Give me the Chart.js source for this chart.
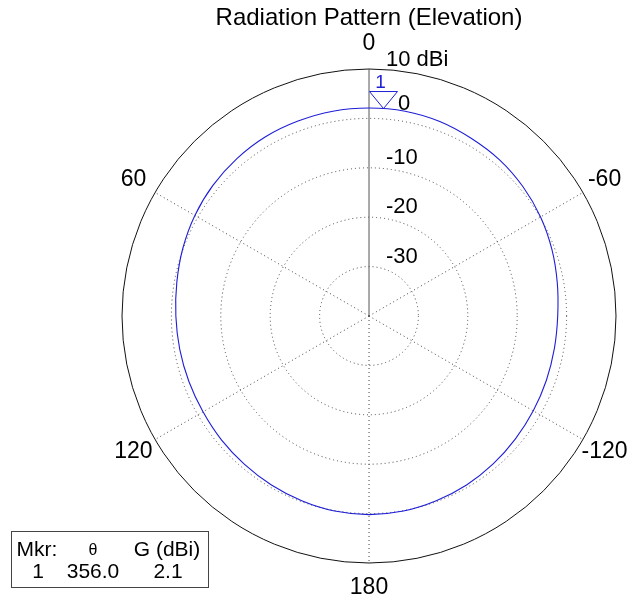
<!DOCTYPE html>
<html>
<head>
<meta charset="utf-8">
<script src="https://cdn.jsdelivr.net/npm/chart.js@4"></script>
<style>
  body { margin: 0; background: #fff; }
  canvas { display: block; }
</style>
</head>
<body>
<canvas id="myChart" width="629" height="603"></canvas>
<script>
// elevation angle (deg, counter-clockwise from top) and gain (dBi)
const thetaDeg = [0, 10, 20, 30, 40, 50, 60, 70, 80, 90, 100, 110, 120, 130, 140, 150, 160, 170,
                  180, 190, 200, 210, 220, 230, 240, 250, 260, 270, 280, 290, 300, 310, 320, 330, 340, 350];
const gainDbi = [2.1, 2.1, 2.0, 1.9, 1.6, 1.2, 0.7, 0.1, -0.5, -0.9, -1.1, -1.2, -1.2, -1.0, -0.8, -0.5, -0.2, 0.1,
                 0.2, 0.1, -0.2, -0.5, -0.9, -1.3, -1.6, -1.8, -1.9, -1.8, -1.3, -0.6, 0.1, 0.7, 1.2, 1.5, 1.9, 2.1];

const ringTicks = [-30, -20, -10, 0, 10];
const ringLabels = ['-30', '-20', '-10', '0', '10 dBi'];
const angleTicks = [0, 60, 120, 180, -120, -60];
const angleLabels = ['0', '60', '120', '180', '-120', '-60'];

const markerTheta = 356.0;
const markerGain = 2.1;

const FONT = '"Liberation Sans", Arial, sans-serif';
const BLUE = 'rgb(30,30,215)';

// radar goes clockwise, the pattern is counter-clockwise
let labels = [], values = [];
for (let i = 0; i < thetaDeg.length; i++) {
    let th = (360 - thetaDeg[i]) % 360;
    let k = thetaDeg.indexOf(th);
    labels.push(String(th));
    values.push(gainDbi[k]);
}

// angle in radians measured the canvas way for a ccw elevation angle
function canvasAngle(theta) {
    return -Math.PI / 2 - theta * Math.PI / 180;
}

const overlay = {
    id: 'overlay',
    afterDraw(chart) {
        const ctx = chart.ctx;
        const r = chart.scales.r;
        const cx = r.xCenter, cy = r.yCenter;
        ctx.save();
        ctx.fillStyle = '#000';

        // title
        ctx.font = '24px ' + FONT;
        ctx.textAlign = 'center';
        ctx.textBaseline = 'middle';
        ctx.fillText('Radiation Pattern (Elevation)', cx, 18);

        // angle labels
        ctx.font = '23px ' + FONT;
        const outer = r.getDistanceFromCenterForValue(10) + 25;
        angleTicks.forEach((a, i) => {
            const ang = canvasAngle(a);
            ctx.fillText(angleLabels[i], cx + outer * Math.cos(ang), cy + outer * Math.sin(ang));
        });

        // ring labels
        ctx.font = '22px ' + FONT;
        ctx.textAlign = 'left';
        ringTicks.forEach((v, i) => {
            const d = r.getDistanceFromCenterForValue(v);
            let x = cx + 17, y = cy - d - 10;
            if (v === 0) { x = cx + 29; y = cy - d - 14; }
            if (v === 10) { y = cy - d - 9; }
            ctx.fillText(ringLabels[i], x, y);
        });

        // marker
        const md = r.getDistanceFromCenterForValue(markerGain);
        const ma = canvasAngle(markerTheta);
        const mx = cx + md * Math.cos(ma), my = cy + md * Math.sin(ma);
        ctx.strokeStyle = BLUE;
        ctx.lineWidth = 1;
        ctx.beginPath();
        ctx.moveTo(mx, my);
        ctx.lineTo(mx - 14, my - 17);
        ctx.lineTo(mx + 14, my - 17);
        ctx.closePath();
        ctx.stroke();
        ctx.fillStyle = BLUE;
        ctx.font = '19px ' + FONT;
        ctx.textAlign = 'center';
        ctx.fillText('1', mx - 3, my - 26);

        // marker table
        ctx.fillStyle = '#fff';
        ctx.fillRect(12, 531, 197, 57);
        ctx.strokeStyle = '#444';
        ctx.strokeRect(11.5, 531.5, 197, 56);
        ctx.fillStyle = '#000';
        ctx.font = '21px ' + FONT;
        ctx.fillText('Mkr:', 37, 550);
        ctx.fillText('G (dBi)', 167, 550);
        ctx.fillText('1', 38, 572);
        ctx.fillText(markerTheta.toFixed(1), 93, 572);
        ctx.fillText(String(markerGain), 168, 572);
        ctx.font = '16px ' + FONT;
        ctx.fillText('\u03b8', 93, 551);
        ctx.restore();
    }
};

const ctx = document.getElementById('myChart');
const myChart = new Chart(ctx, {
    type: 'radar',
    data: {
        labels: labels,
        datasets: [{
            data: values,
            borderColor: BLUE,
            borderWidth: 1.1,
            pointRadius: 0,
            fill: false,
            tension: 0.35
        }]
    },
    options: {
        responsive: false,
        animation: false,
        layout: { padding: { left: 122, top: 69, right: 13, bottom: 40 } },
        plugins: {
            legend: { display: false },
            tooltip: { enabled: false }
        },
        scales: {
            r: {
                min: -40,
                max: 10,
                ticks: { display: false, stepSize: 10 },
                pointLabels: { display: false },
                grid: {
                    circular: true,
                    lineWidth: 1,
                    color: (c) => c.tick && c.tick.value === 10 ? '#111' : '#444'
                },
                border: {
                    dash: (c) => c.tick && c.tick.value === 10 ? [] : [1, 3]
                },
                angleLines: {
                    lineWidth: (c) => c.index % 6 === 0 ? 1 : 0,
                    color: (c) => c.index === 0 ? '#555' : '#444',
                    borderDash: (c) => c.index === 0 ? [] : [1, 3]
                }
            }
        }
    },
    plugins: [overlay]
});
</script>
</body>
</html>
